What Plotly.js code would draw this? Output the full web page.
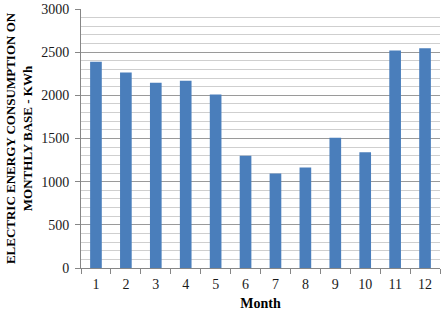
<!DOCTYPE html>
<html>
<head>
<meta charset="utf-8">
<script src="https://cdn.plot.ly/plotly-3.0.1.min.js"></script>
<style>html,body{margin:0;padding:0;background:#fff;}#chart{width:445px;height:313px;}</style>
</head>
<body>
<div id="chart"></div>
<script>
const months = ["1","2","3","4","5","6","7","8","9","10","11","12"];
const consumption = [2390, 2265, 2145, 2170, 2010, 1300, 1095, 1165, 1510, 1340, 2520, 2545];
const yTickVals = [0, 500, 1000, 1500, 2000, 2500, 3000];

const data = [{
  type: "bar",
  x: months,
  y: consumption,
  marker: {color: "#4a7ebb", line: {width: 0}},
  hoverinfo: "none"
}];

const fam = "Liberation Serif";

const layout = {
  width: 445, height: 313,
  margin: {l: 81, r: 5, t: 9, b: 45},
  paper_bgcolor: "#fff", plot_bgcolor: "#fff",
  showlegend: false,
  bargap: 0.61,
  font: {family: fam, color: "#000"},
  xaxis: {
    type: "category",
    tickson: "boundaries",
    ticks: "outside", ticklen: 5, tickcolor: "#868686",
    showline: true, linecolor: "#868686", linewidth: 1,
    showgrid: false, zeroline: false,
    ticklabelstandoff: 3,
    tickfont: {family: fam, size: 14, color: "#1a1a1a"},
    title: {text: "<b>Month</b>", font: {family: fam, size: 14, color: "#000"}, standoff: 7}
  },
  yaxis: {
    range: [0, 3000],
    tickvals: yTickVals,
    ticks: "outside", ticklen: 5, tickcolor: "#868686",
    showline: true, linecolor: "#868686", linewidth: 1,
    showgrid: true, gridcolor: "#9a9a9a", gridwidth: 1,
    zeroline: false,
    ticklabelstandoff: 3,
    minor: {dtick: 100, showgrid: true, gridcolor: "#cfcfcf", gridwidth: 1, ticks: ""},
    tickfont: {family: fam, size: 14, color: "#1a1a1a"},
    title: {text: "<b>ELECTRIC ENERGY CONSUMPTION ON<br>MONTHLY BASE - KWh</b>", font: {family: fam, size: 13, color: "#000"}, standoff: 5}
  }
};

Plotly.newPlot("chart", data, layout, {staticPlot: true, displayModeBar: false});
</script>
</body>
</html>
